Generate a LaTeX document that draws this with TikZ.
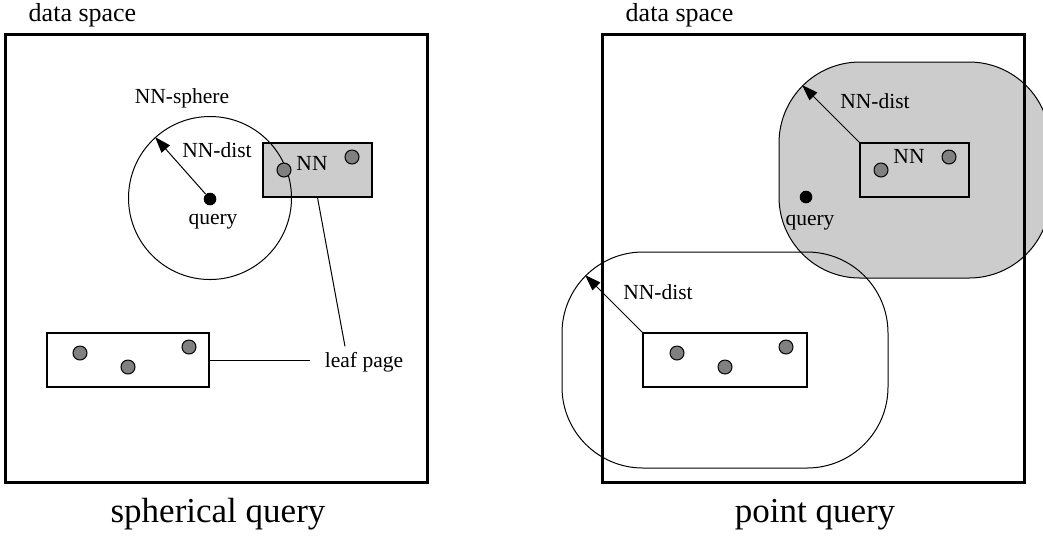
\documentclass[tikz,border=0pt]{standalone}
\usepackage{fontspec}
\setmainfont{Liberation Serif}
\usetikzlibrary{arrows.meta}
\begin{document}
\begin{tikzpicture}[x=0.5pt,y=-0.5pt,line width=0.5pt,
    lbl/.style={font=\fontsize{10.75}{12}\selectfont,anchor=base,inner sep=0pt},
    datapt/.style={circle,draw,fill=black!50,inner sep=0pt,minimum size=7pt},
    qdot/.style={circle,fill,inner sep=0pt,minimum size=6.3pt},
    leafpage/.style={draw,line width=0.6pt,inner sep=0pt,minimum height=27pt},
    region/.style={draw,inner sep=0pt,rounded corners=40.5pt,minimum height=108pt},
    distarrow/.style={-{Triangle[length=8pt,width=5.5pt]}}]
    \clip (0,0) rectangle (1043,538);
    % gray NN region of the point query (under the frame)
    \node[region,fill=black!20,minimum width=135.5pt] (nnreg) at (914.5,170) {};
    % both data spaces
    \foreach \x/\t [count=\i] in {216/spherical query,813/point query}{%
        \node[draw,line width=1.5pt,inner sep=0pt,minimum width=211pt,
            minimum height=224pt] (space\i) at (\x,258) {};
        \node[lbl,font=\fontsize{13}{15}\selectfont] (ds\i) at (\x-133.5,21) {data space};
        \node[lbl,font=\fontsize{17.5}{20}\selectfont] (cap\i) at (\x+2,522) {\t};
    }
    % spherical query
    \node[leafpage,fill=black!20,minimum width=54.5pt] (nnL) at (317.5,170) {};
    \node[circle,draw,inner sep=0pt,minimum size=81.5pt] (sph) at (210,198) {};
    \node[leafpage,minimum width=81pt] (leafL) at (128,360) {};
    \foreach \x/\y [count=\i] in {284/170,352/157}
        \node[datapt] (nL\i) at (\x,\y) {};
    \foreach \x/\y [count=\i] in {80/353,128/367,189/347}
        \node[datapt] (pL\i) at (\x,\y) {};
    \node[qdot] (qL) at (210,199) {};
    \node[lbl] (qlblL) at (213,224) {query};
    \node[lbl] (sphlbl) at (182,103) {NN-sphere};
    \node[lbl] (distL) at (217,157) {NN-dist};
    \node[lbl] (nnlblL) at (312,170) {NN};
    \node[lbl,inner xsep=7pt] (leaflbl) at (364,367) {leaf page};
    \draw[distarrow] (qL) -- (sph.132);
    \draw (leafL.east) -- (leafL.east -| leaflbl.west);
    \draw (nnL.south) -- ([shift={(-9.5pt,2.5pt)}]leaflbl.north);
    % point query
    \node[region,minimum width=163pt] (leafreg) at (725,360) {};
    \node[leafpage,minimum width=54.5pt] (nnR) at (914.5,170) {};
    \node[leafpage,minimum width=82pt] (leafR) at (725,360) {};
    \foreach \x/\y [count=\i] in {881/170,949/157}
        \node[datapt] (nR\i) at (\x,\y) {};
    \foreach \x/\y [count=\i] in {677/353,725/367,786/347}
        \node[datapt] (pR\i) at (\x,\y) {};
    \node[qdot] (qR) at (806,197) {};
    \node[lbl] (qlblR) at (810,225) {query};
    \node[lbl] (nnlblR) at (909,163) {NN};
    \node[lbl] (distR1) at (875,108) {NN-dist};
    \node[lbl] (distR2) at (658,299) {NN-dist};
    \draw[distarrow] (nnR.north west) -- ([shift={(135:40.5pt)}]nnR.north west);
    \draw[distarrow] (leafR.north west) -- ([shift={(135:40.5pt)}]leafR.north west);
\end{tikzpicture}
\end{document}
